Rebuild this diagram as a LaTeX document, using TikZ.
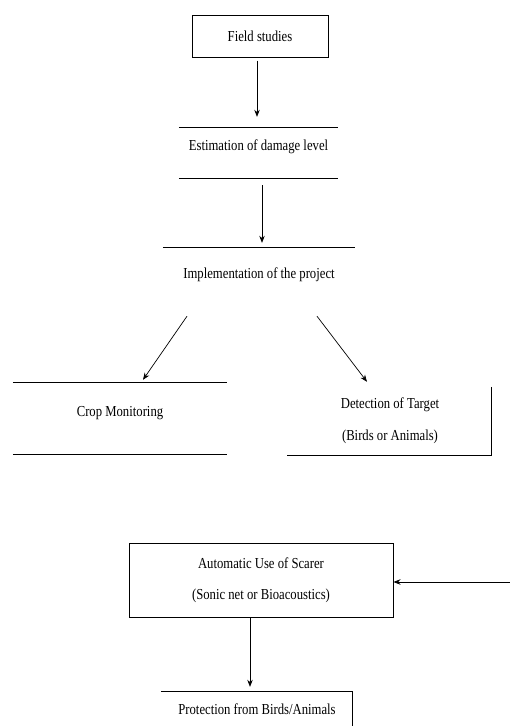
\documentclass[tikz,border=0pt]{standalone}
\usepackage{fontspec}
\setmainfont{Liberation Serif}
\usepackage{graphicx}
\usetikzlibrary{arrows.meta}
\newcommand{\tallt}[1]{\scalebox{1}[1.2]{#1}}
\begin{document}
\begin{tikzpicture}[x=1pt,y=-1pt,
  frame/.style={draw=black,line width=1pt,inner sep=0pt},
  blank/.style={inner sep=0pt},
  txt/.style={font=\fontsize{12.7}{15}\selectfont,inner sep=1pt},
  conn/.style={line width=0.7pt,-{Stealth[length=7pt,width=5.5pt]}},
  rulel/.style={line width=1pt}]
\useasboundingbox (0,0) rectangle (510,726);
% Field studies
\node[frame,txt,minimum width=136pt,minimum height=42pt] (field) at (260,36) {\tallt{Field studies}};
% Estimation
\node[blank,minimum width=159pt,minimum height=50pt] (est) at (258.5,153) {};
\node[txt] (estt) at (258.5,147) {\tallt{Estimation of damage level}};
\draw[rulel] (est.north west) -- (est.north east);
\draw[rulel] (est.south west) -- (est.south east);
% Implementation
\node[blank,minimum width=192pt,minimum height=54pt] (impl) at (259,275) {};
\node[txt] (implt) at (259,275) {\tallt{Implementation of the project}};
\draw[rulel] (impl.north west) -- (impl.north east);
% Crop monitoring
\node[blank,minimum width=214pt,minimum height=71pt] (crop) at (120,418.5) {};
\node[txt] (cropt) at (120,413) {\tallt{Crop Monitoring}};
\draw[rulel] (crop.north west) -- (crop.north east);
\draw[rulel] (crop.south west) -- (crop.south east);
% Detection
\node[blank,minimum width=204pt,minimum height=68pt] (det) at (389,421) {};
\node[txt] (dett1) at (390,405) {\tallt{Detection of Target}};
\node[txt] (dett2) at (390,437) {\tallt{(Birds or Animals)}};
\draw[rulel] (det.north east) -- (det.south east) -- (det.south west);
% Automatic
\node[frame,minimum width=264pt,minimum height=74pt] (auto) at (261,580) {};
\node[txt] (autot1) at (261,563) {\tallt{Automatic Use of Scarer}};
\node[txt] (autot2) at (261,596) {\tallt{(Sonic net or Bioacoustics)}};
\coordinate (feed) at (510,582);
% Protection
\node[blank,minimum width=191pt,minimum height=68pt] (prot) at (256.5,726) {};
\node[txt] (prott) at (257,709) {\tallt{Protection from Birds/Animals}};
\draw[rulel] (prot.north west) -- (prot.north east) -- (prot.east);
% Connectors
\draw[conn] ([xshift=-3pt,yshift=-3pt]field.south) -- ([xshift=-1.5pt,yshift=11pt]est.north);
\draw[conn] ([xshift=3.5pt,yshift=-7pt]est.south) -- ([xshift=3pt,yshift=5pt]impl.north);
\draw[conn] ([xshift=-72pt,yshift=-14pt]impl.south) -- ([xshift=23pt,yshift=3pt]crop.north);
\draw[conn] ([xshift=58pt,yshift=-14pt]impl.south) -- ([xshift=-22pt,yshift=5pt]det.north);
\draw[conn] (feed) -- ([yshift=-2pt]auto.east);
\draw[conn] ([xshift=-11pt]auto.south) -- ([xshift=-6.5pt,yshift=5pt]prot.north);
\end{tikzpicture}
\end{document}
